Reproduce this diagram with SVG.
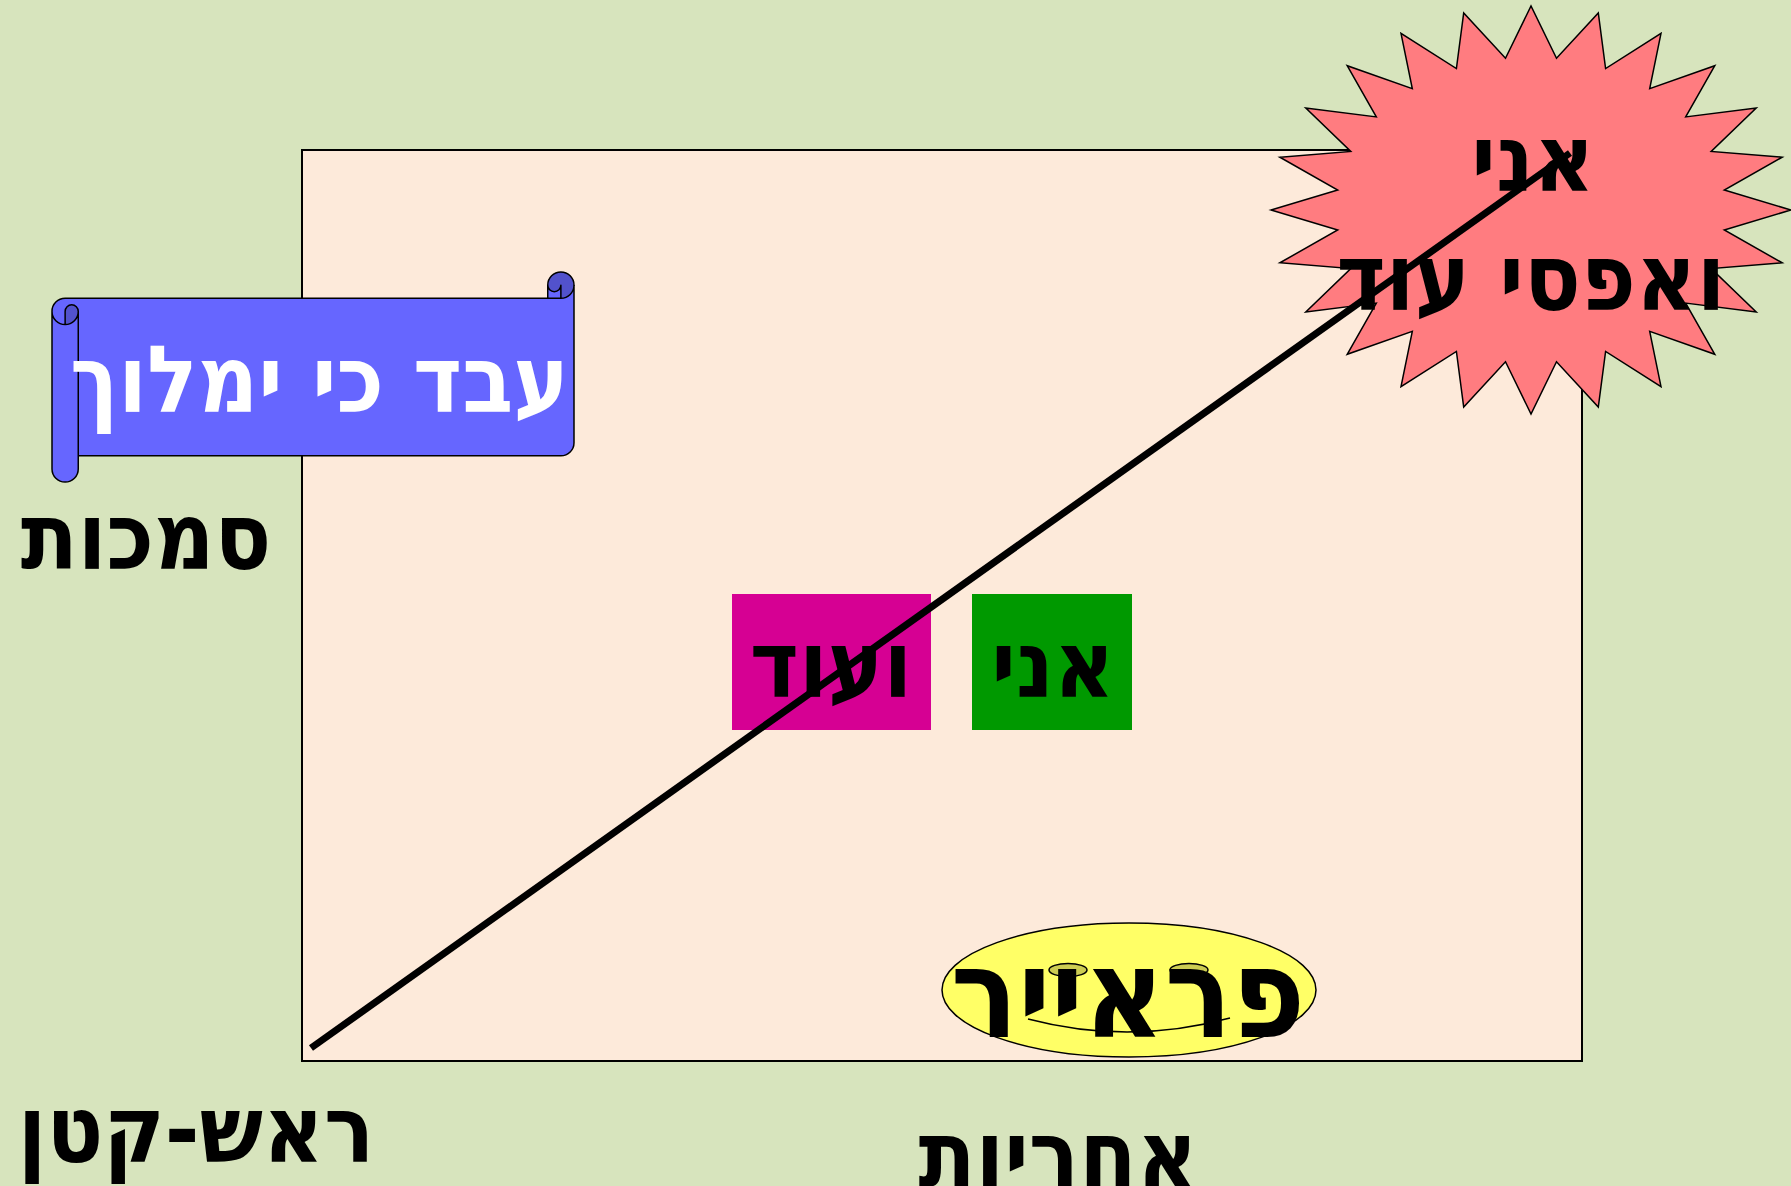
<svg xmlns="http://www.w3.org/2000/svg" width="1791" height="1186" viewBox="0 0 1791 1186">
<style>
.t{font-family:"DejaVu Sans Condensed","DejaVu Sans","Liberation Sans",sans-serif;font-stretch:condensed;font-weight:bold;text-anchor:middle;font-size:93px;fill:#000}
.w{fill:#fff}
.ol{stroke:#000;stroke-width:1.5}
</style>
<rect x="0" y="0" width="1791" height="1186" fill="#d7e4bd"/>
<g id="frame">
<rect x="302" y="150" width="1280" height="911" fill="#fdeada" stroke="#000" stroke-width="2"/>
</g>
<g id="scroll" transform="translate(52,272)">
<path d="M0,39.375 A13.125,13.125 0 0 1 13.125,26.25 L495.75,26.25 L495.75,13.125 A13.125,13.125 0 0 1 522,13.125 L522,170.625 A13.125,13.125 0 0 1 508.875,183.75 L26.25,183.75 L26.25,196.875 A13.125,13.125 0 0 1 0,196.875 Z" fill="#6666ff"/>
<path d="M13.125,52.5 A13.125,13.125 0 0 0 26.25,39.375 A6.5625,6.5625 0 0 0 13.125,39.375 Z M508.875,26.25 A13.125,13.125 0 1 0 495.75,13.125 A6.5625,6.5625 0 0 0 508.875,13.125 Z" fill="#5252cc"/>
<path d="M0,39.375 A13.125,13.125 0 0 1 13.125,26.25 L495.75,26.25 L495.75,13.125 A13.125,13.125 0 0 1 522,13.125 L522,170.625 A13.125,13.125 0 0 1 508.875,183.75 L26.25,183.75 L26.25,196.875 A13.125,13.125 0 0 1 0,196.875 Z M495.75,26.25 L508.875,26.25 A13.125,13.125 0 0 0 522,13.125 M508.875,26.25 L508.875,13.125 A6.5625,6.5625 0 0 1 495.75,13.125 M13.125,52.5 L13.125,39.375 A6.5625,6.5625 0 0 1 26.25,39.375 A13.125,13.125 0 0 1 0,39.375 M26.25,39.375 L26.25,183.75" fill="none" class="ol" stroke-linejoin="round"/>
<text class="t w" x="267.5" y="140">עבד כי ימלוך</text>
</g>
<g id="label-samchut"><text class="t" x="146" y="569">סמכות</text></g>
<g id="label-rosh-katan"><text class="t" x="196" y="1162">ראש-קטן</text></g>
<g id="label-achrayut"><text class="t" x="1058" y="1187">אחריות</text></g>
<g id="box-veod">
<rect x="732" y="594" width="199" height="136" fill="#d60093"/>
<text class="t" x="831" y="697">ועוד</text>
</g>
<g id="box-ani">
<rect x="972" y="594" width="160" height="136" fill="#009900"/>
<text class="t" x="1053" y="697">אני</text>
</g>
<g id="smiley">
<ellipse cx="1129" cy="990" rx="187" ry="67" fill="#ffff66" class="ol"/>
<ellipse cx="1068" cy="970" rx="19" ry="6.5" fill="#cccc52" class="ol"/>
<ellipse cx="1189" cy="970" rx="19" ry="6.5" fill="#cccc52" class="ol"/>
<path d="M1028,1019 Q1129,1045.5 1230,1018" fill="none" class="ol"/>
<text class="t" x="1128" y="1037" style="font-size:124px">פראייר</text>
</g>
<g id="star">
<polygon class="ol" fill="#ff7c80" points="1791,210 1724.3,230 1782.1,262.8 1711.2,268.6 1756.2,312 1685.7,303.1 1714.8,354.3 1649.7,331.4 1661,386.7 1605.6,351.4 1598.3,407.1 1556.5,361.7 1531,414 1505.5,361.7 1463.7,407.1 1456.4,351.4 1401,386.7 1412.3,331.4 1347.2,354.3 1376.3,303.1 1305.8,312 1350.8,268.6 1279.9,262.8 1337.7,230 1271,210 1337.7,190 1279.9,157.2 1350.8,151.4 1305.8,108 1376.3,116.9 1347.2,65.7 1412.3,88.6 1401,33.3 1456.4,68.6 1463.7,12.9 1505.5,58.3 1531,6 1556.5,58.3 1598.3,12.9 1605.6,68.6 1661,33.3 1649.7,88.6 1714.8,65.7 1685.7,116.9 1756.2,108 1711.2,151.4 1782.1,157.2 1724.3,190"/>
<text class="t" x="1533" y="191">אני</text>
<text class="t" x="1531" y="310">ואפסי עוד</text>
</g>
<g id="connectors">
<line x1="311" y1="1048" x2="1570" y2="153" stroke="#000" stroke-width="7"/>
</g>
</svg>
